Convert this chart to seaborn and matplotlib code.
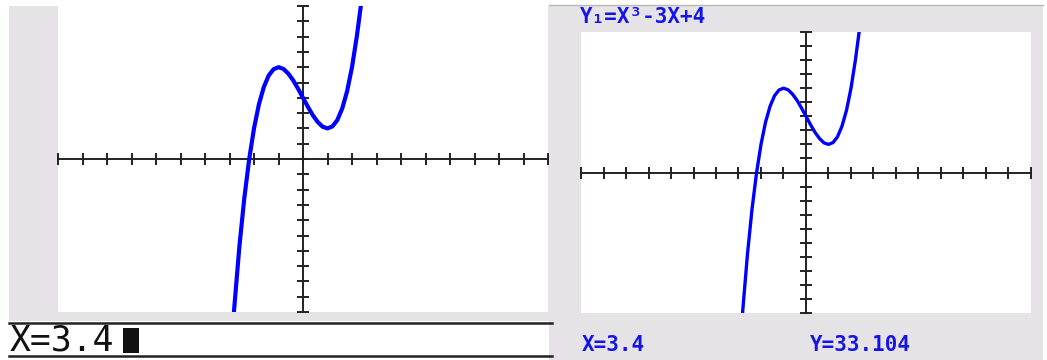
import numpy as np
import pandas as pd
import matplotlib
matplotlib.use("Agg")
import matplotlib.pyplot as plt
from matplotlib.patches import Rectangle
from matplotlib.lines import Line2D
import seaborn as sns

# curve points (window -10..10 on both axes)
x_vals = [-2.82, -2.6, -2.4, -2.2, -2.0, -1.8, -1.6, -1.4, -1.2, -1.0, -0.8, -0.6, -0.4,
          -0.2, 0.0, 0.2, 0.4, 0.6, 0.8, 1.0, 1.2, 1.4, 1.6, 1.8, 2.0, 2.2, 2.36]
y_vals = [-10.0, -5.78, -2.62, -0.05, 2.0, 3.57, 4.70, 5.46, 5.87, 6.0, 5.89, 5.58, 5.14,
          4.59, 4.0, 3.41, 2.86, 2.42, 2.11, 2.0, 2.13, 2.54, 3.30, 4.43, 6.0, 8.05, 10.0]
x_ticks = list(range(-10, 11))
y_ticks = list(range(-10, 11))

equation = "Y\u2081=X\u00b3-3X+4"
cursor_x = "X=3.4"
cursor_y = "Y=33.104"

df = pd.DataFrame({"x": x_vals, "y": y_vals})

W, H = 1047, 360
GRAY = "#e6e3e7"
BLUE = "#0000ff"
TXT_BLUE = "#1414e6"


def box(x0, y0, x1, y1):
    return [x0 / W, 1 - y1 / H, (x1 - x0) / W, (y1 - y0) / H]


def rect(x0, y0, x1, y1, color, z=0):
    l, b, w, h = box(x0, y0, x1, y1)
    fig.add_artist(Rectangle((l, b), w, h, transform=fig.transFigure,
                             facecolor=color, edgecolor="none", zorder=z))


def hline(x0, x1, y, color, lw):
    fig.add_artist(Line2D([x0 / W, x1 / W], [1 - y / H, 1 - y / H],
                          transform=fig.transFigure, color=color, linewidth=lw))


fig = plt.figure(figsize=(W / 100, H / 100), dpi=100)
fig.patch.set_facecolor("white")

# screen backgrounds
rect(9, 6, 560, 321, GRAY)
rect(549, 5, 560, 360, GRAY)
rect(549, 5, 1043, 360, GRAY)
hline(549, 1043, 5, "#b8b8b8", 1)

# bottom command line of the left screen
hline(9, 552, 322.5, "#222222", 1.8)
hline(9, 552, 355.5, "#222222", 1.8)


def graph(ax, lw):
    sns.lineplot(data=df, x="x", y="y", sort=False, estimator=None,
                 color=BLUE, linewidth=lw, ax=ax, zorder=3)
    ax.set_xlim(-10, 10)
    ax.set_ylim(-10, 10)
    ax.set_facecolor("white")
    for s in ["top", "right"]:
        ax.spines[s].set_visible(False)
    for s in ["left", "bottom"]:
        ax.spines[s].set_position("zero")
        ax.spines[s].set_color("#222222")
        ax.spines[s].set_linewidth(1.4)
    ax.set_xticks(x_ticks)
    ax.set_yticks(y_ticks)
    ax.tick_params(direction="inout", length=8, width=1.4, color="#222222",
                   labelbottom=False, labelleft=False)
    ax.set_xlabel("")
    ax.set_ylabel("")


ax1 = fig.add_axes(box(58, 6, 548, 312))
graph(ax1, 3.0)

ax2 = fig.add_axes(box(581, 32, 1031, 313))
graph(ax2, 2.4)

# texts
fig.text(10 / W, 1 - 340.5 / H, cursor_x, fontsize=25, color="#111111",
         family=["DejaVu Sans Mono", "DejaVu Sans"], va="center", ha="left")
rect(123, 328, 139, 353, "#111111", z=5)

fig.text(580 / W, 1 - 17 / H, equation, fontsize=15, color=TXT_BLUE, fontweight="bold",
         family=["DejaVu Sans Mono", "DejaVu Sans"], va="center", ha="left")
fig.text(582 / W, 1 - 345 / H, cursor_x, fontsize=15, color=TXT_BLUE, fontweight="bold",
         family=["DejaVu Sans Mono", "DejaVu Sans"], va="center", ha="left")
fig.text(810 / W, 1 - 345 / H, cursor_y, fontsize=15, color=TXT_BLUE, fontweight="bold",
         family=["DejaVu Sans Mono", "DejaVu Sans"], va="center", ha="left")

fig.savefig("out.png", dpi=100, facecolor=fig.get_facecolor())
